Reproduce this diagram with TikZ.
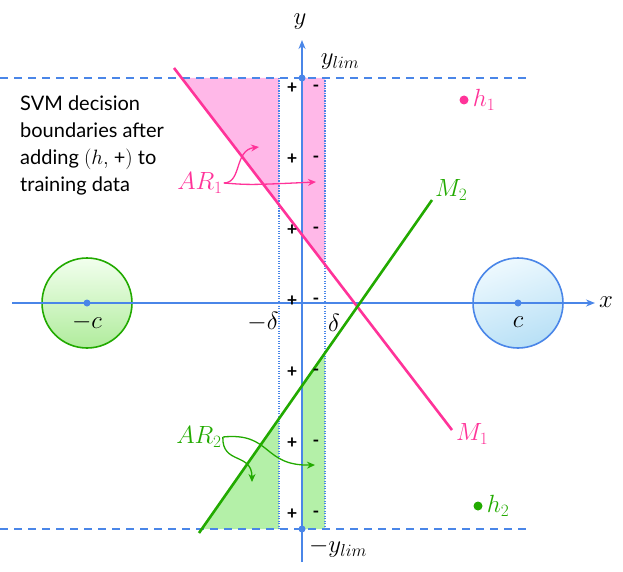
\documentclass[tikz,border=0pt]{standalone}
\usepackage{fontspec}
\setmainfont{Lato}
\usetikzlibrary{positioning,arrows.meta}

\definecolor{axisblue}{HTML}{4A86E8}
\definecolor{mpink}{HTML}{FF3399}
\definecolor{pinkfill}{HTML}{FFB8E8}
\definecolor{mgreen}{HTML}{22AA00}
\definecolor{greenfill}{HTML}{B4F0A8}
\definecolor{blobtop}{HTML}{EEF9FE}
\definecolor{blobbot}{HTML}{B8E0F6}
\definecolor{gblobtop}{HTML}{F2FFEE}
\definecolor{gblobbot}{HTML}{B0EC9C}

\tikzset{
  axis/.style={axisblue, line width=1.6pt, -{Stealth[length=9pt,width=7pt]}},
  limline/.style={axisblue, line width=1.6pt, dash pattern=on 8pt off 6pt},
  deltaline/.style={axisblue, line width=1.1pt, dash pattern=on 1.1pt off 1.4pt},
  mline/.style={line width=2.6pt},
  lab/.style={font=\fontsize{23}{27}\selectfont, inner sep=1pt},
  sign/.style={font=\bfseries\fontsize{18}{18}\selectfont, inner sep=0pt},
  dot/.style={circle, fill, inner sep=0pt, minimum size=#1},
  dot/.default=8pt,
  arr/.style={line width=1.3pt, -{Stealth[length=8pt,width=7pt]}},
  blob/.style={circle, minimum size=90pt, line width=1.6pt, inner sep=0pt},
}

\begin{document}
\begin{tikzpicture}[x=1pt, y=-1pt]
  \useasboundingbox (0,0) rectangle (623,572);

  % Shaded regions
  \fill[pinkfill] (181.7,78) -- (279,78) -- (279,204.7) -- cycle;
  \fill[pinkfill] (302,78) -- (325,78) -- (325,264.6) -- (302,234.7) -- cycle;
  \fill[greenfill] (201.8,529) -- (279,529) -- (279,418.7) -- cycle;
  \fill[greenfill] (302,529) -- (325,529) -- (325,353) -- (302,385.8) -- cycle;

  % Class regions
  \node[blob, draw=mgreen, top color=gblobtop, bottom color=gblobbot] (lblob) at (87,303) {};
  \node[blob, draw=axisblue, top color=blobtop, bottom color=blobbot, shading angle=20] (rblob) at (518,303) {};

  % Limits and margins
  \coordinate (ltopa) at (0,78);   \coordinate (ltopb) at (526,78);
  \coordinate (lbota) at (0,529);  \coordinate (lbotb) at (526,529);
  \draw[limline] (ltopa) -- (ltopb);
  \draw[limline] (lbota) -- (lbotb);
  \draw[deltaline] (279,78) -- (279,529);
  \draw[deltaline] (325,78) -- (325,529);

  % Axes
  \coordinate (xa) at (12,303);  \coordinate (xb) at (595,303);
  \coordinate (ya) at (302,562); \coordinate (yb) at (302,40);
  \draw[axis] (xa) -- (xb);
  \draw[axis] (ya) -- (yb);
  \node[lab] (xlab) at (606,302) {$x$};
  \node[lab] (ylab) at (300,22) {$y$};

  % Decision boundaries
  \coordinate (M1a) at (174,68);  \coordinate (M1b) at (452,430);
  \coordinate (M2a) at (199,533); \coordinate (M2b) at (432,200);
  \draw[mline, mpink] (M1a) -- (M1b);
  \draw[mline, mgreen] (M2a) -- (M2b);
  \node[lab, mpink, anchor=west] (m1lab) at (455,434) {$M_1$};
  \node[lab, mgreen, anchor=west] (m2lab) at (434,190) {$M_2$};

  % Points
  \node[dot=7pt, axisblue] (ctop) at (302,78) {};
  \node[dot=7pt, axisblue] (cbot) at (302,529) {};
  \node[dot=7pt, axisblue] (lc) at (87,303) {};
  \node[dot=7pt, axisblue] (rc) at (518,303) {};
  \node[dot=9pt, mpink] (h1) at (464,100) {};
  \node[dot=9pt, mgreen] (h2) at (478,506) {};
  \node[lab, mpink, right=3pt of h1] (h1lab) {$h_1$};
  \node[lab, mgreen, right=3pt of h2] (h2lab) {$h_2$};

  % Labels
  \node[lab] (ylim) at (340,62) {$y_{lim}$};
  \node[lab] (nylim) at (338,548) {$-y_{lim}$};
  \node[lab] (ndel) at (263,322) {$-\delta$};
  \node[lab] (del) at (334,323) {$\delta$};
  \node[lab] (nclab) at (87,322) {$-c$};
  \node[lab] (clab) at (518,322) {$c$};
  \node[align=left, anchor=north west, inner sep=0pt, font=\fontsize{20}{27}\selectfont] (note) at (20,96)
    {SVM decision\\boundaries after\\adding $(h,$ +$)$ to\\training data};

  % Signs
  \foreach \yy in {88,159,230,301,372,443,514} {
    \node[sign] (p\yy) at (292,\yy) {+};
    \node[sign] (n\yy) at (316,\yy) {-};
  }

  % Ambiguous regions
  \node[lab, mpink] (AR1) at (200,183) {$AR_1$};
  \node[lab, mgreen] (AR2) at (199,437) {$AR_2$};
  \coordinate (ar1a) at (259,147); \coordinate (ar1b) at (316,182);
  \coordinate (ar2a) at (252,482); \coordinate (ar2b) at (315,465);
  \draw[arr, mpink] (AR1.east) .. controls (242,183) and (234,150) .. (ar1a);
  \draw[arr, mpink] (AR1.east) .. controls (250,185) .. (ar1b);
  \draw[arr, mgreen] (AR2.east) .. controls (222,465) and (252,452) .. (ar2a);
  \draw[arr, mgreen] (AR2.east) .. controls (272,432) and (262,466) .. (ar2b);
\end{tikzpicture}
\end{document}
